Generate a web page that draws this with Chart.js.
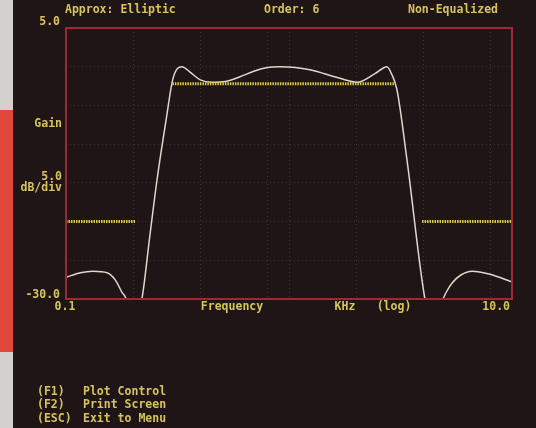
<!DOCTYPE html>
<html>
<head>
<meta charset="utf-8">
<script src="https://cdn.jsdelivr.net/npm/chart.js"></script>
<style>
  html, body { margin: 0; padding: 0; background: #1f1517; }
  canvas { display: block; }
</style>
</head>
<body>
<canvas id="myChart" width="536" height="428"></canvas>

<script>
    // Respuesta del filtro (KHz / dB)
    var freq = [0.1, 0.116, 0.132, 0.153, 0.166, 0.178, 0.186, 0.2, 0.219, 0.238, 0.256, 0.281, 0.302,
                0.331, 0.36, 0.40, 0.452, 0.52, 0.603, 0.70, 0.80, 0.90, 1.0, 1.24, 1.69, 2.02, 2.43,
                2.75, 2.88, 3.05, 3.38, 4.07, 4.47, 4.91, 5.1, 5.4, 5.9, 6.62, 7.97, 10];
    var gain = [-27.2, -26.6, -26.4, -26.6, -27.5, -29.1, -30, -34, -30, -21.7, -14.6, -6.9, -1.5,
                0, -0.7, -1.7, -2.0, -1.9, -1.3, -0.55, -0.1, 0, -0.05, -0.4, -1.5, -2.0, -0.9,
                0, -0.9, -3.0, -12.0, -30, -34, -30, -29.0, -27.9, -26.9, -26.4, -26.8, -27.8];

    // Mascara de especificacion
    var passFreq = [0.3, 3.0];
    var passGain = [-2.2, -2.2];
    var stopLoFreq = [0.1, 0.206];
    var stopHiFreq = [3.95, 10];
    var stopGain = [-20, -20];

    // Rejilla y etiquetas
    var xGrid = [0.1, 0.2, 0.4, 0.8, 1, 2, 4, 8, 10];
    var xTickLabels = ['0.1', '10.0'];
    var yTickLabels = ['5.0', '-30.0'];

    function pts(xs, ys) {
        return xs.map(function (x, i) { return { x: x, y: ys[i] }; });
    }

    var YELLOW = '#d6c45c';
    var FONT = 'bold 11.5px "DejaVu Sans Mono"';

    var screenPlugin = {
        id: 'screen',
        beforeDraw: function (chart) {
            var c = chart.ctx;
            c.save();
            c.fillStyle = '#1f1517';
            c.fillRect(0, 0, chart.width, chart.height);
            c.fillStyle = '#d4d0cb';
            c.fillRect(0, 0, 13, chart.height);
            c.fillStyle = '#e0463a';
            c.fillRect(0, 110, 13, 242);
            c.restore();
        },
        afterDatasetsDraw: function (chart) {
            var c = chart.ctx, a = chart.chartArea;
            var xs = chart.scales.x;
            c.save();
            c.strokeStyle = '#9c2a30';
            c.lineWidth = 2;
            c.strokeRect(a.left, a.top, a.right - a.left, a.bottom - a.top);

            c.fillStyle = YELLOW;
            c.font = FONT;
            c.textBaseline = 'middle';

            c.textAlign = 'left';
            c.fillText('Approx: Elliptic', 65, 10);
            c.fillText('Order: 6', 264, 10);
            c.textAlign = 'right';
            c.fillText('Non-Equalized', 498, 10);

            c.fillText(yTickLabels[0], 60, 22);
            c.fillText(yTickLabels[1], 60, 295);
            c.fillText('Gain', 62, 124);
            c.fillText('5.0', 62, 177);
            c.fillText('dB/div', 62, 188);

            c.textAlign = 'center';
            c.fillText(xTickLabels[0], xs.getPixelForValue(0.1) - 1, 307);
            c.textAlign = 'right';
            c.fillText(xTickLabels[1], xs.getPixelForValue(10) - 2, 307);
            c.textAlign = 'center';
            c.fillText('Frequency', 232, 307);
            c.fillText('KHz', 345, 307);
            c.fillText('(log)', 394, 307);

            c.textAlign = 'left';
            c.fillText('(F1)', 37, 392);
            c.fillText('Plot Control', 83, 392);
            c.fillText('(F2)', 37, 405);
            c.fillText('Print Screen', 83, 405);
            c.fillText('(ESC)', 37, 419);
            c.fillText('Exit to Menu', 83, 419);
            c.restore();
        }
    };

    var specStyle = {
        borderColor: '#dcc84a',
        borderWidth: 3,
        borderDash: [1.5, 1],
        pointRadius: 0,
        fill: false
    };

    var ctx = document.getElementById('myChart').getContext('2d');
    var myChart = new Chart(ctx, {
        type: 'line',
        data: {
            datasets: [
                Object.assign({ data: pts(passFreq, passGain) }, specStyle),
                Object.assign({ data: pts(stopLoFreq, stopGain) }, specStyle),
                Object.assign({ data: pts(stopHiFreq, stopGain) }, specStyle),
                {
                    data: pts(freq, gain),
                    borderColor: '#dcd8cc',
                    borderWidth: 1.5,
                    pointRadius: 0,
                    cubicInterpolationMode: 'monotone',
                    fill: false
                }
            ]
        },
        options: {
            responsive: false,
            animation: false,
            devicePixelRatio: 1,
            layout: { padding: { left: 66, right: 24, top: 28, bottom: 129 } },
            plugins: { legend: { display: false }, tooltip: { enabled: false } },
            scales: {
                x: {
                    type: 'logarithmic',
                    min: 0.1,
                    max: 10,
                    afterBuildTicks: function (scale) {
                        scale.ticks = xGrid.map(function (v) { return { value: v }; });
                    },
                    ticks: { display: false },
                    grid: { color: 'rgba(170,160,160,0.22)', drawTicks: false },
                    border: { display: false, dash: [1, 3] }
                },
                y: {
                    min: -30,
                    max: 5,
                    ticks: { display: false, stepSize: 5 },
                    grid: { color: 'rgba(170,160,160,0.22)', drawTicks: false },
                    border: { display: false, dash: [1, 3] }
                }
            }
        },
        plugins: [screenPlugin]
    });
</script>
</body>
</html>
